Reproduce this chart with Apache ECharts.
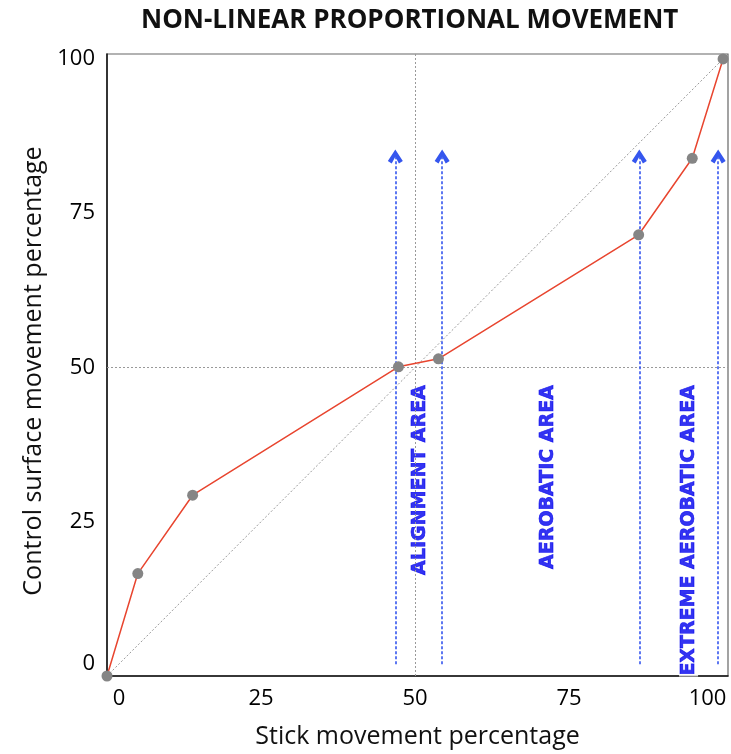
<!DOCTYPE html>
<html>
<head>
<meta charset="utf-8">
<script src="https://cdn.jsdelivr.net/npm/echarts@6/dist/echarts.min.js"></script>
<style>html,body{margin:0;padding:0;background:#fff}#c{width:731px;height:754px}</style>
</head>
<body>
<div id="c"></div>
<script>
// ---- data ----
const titleText = 'NON-LINEAR PROPORTIONAL MOVEMENT';
const xName = 'Stick movement percentage';
const yName = 'Control surface movement percentage';
const tickValues = [0, 25, 50, 75, 100];
const stickPct = [0, 5.0, 13.9, 47.3, 53.8, 86.3, 95.0, 100];
const surfacePct = [0, 16.6, 29.3, 50.1, 51.4, 71.5, 83.9, 100];
const arrowX = [46.8, 54.4, 86.4, 99.2];
const arrowFromY = 1.9;
const arrowToY = 84.2;
const areaNames = ['ALIGNMENT AREA', 'AEROBATIC AREA', 'EXTREME AEROBATIC AREA'];
const areaX = [50.8, 71.6, 94.4];
const areaTopY = 47.3;
const midValue = 50;

const font = 'Open Sans';
const chart = echarts.init(document.getElementById('c'), null, {renderer: 'canvas'});

function xLabel(v) {
  if (tickValues.indexOf(v) < 0) return '';
  if (v === tickValues[0]) return '{first|' + v + '}';
  if (v === tickValues[tickValues.length - 1]) return '{last|' + v + '}';
  return '{n|' + v + '}';
}
function yLabel(v) {
  if (tickValues.indexOf(v) < 0) return '';
  if (v === tickValues[0]) return '{first|' + v + '}';
  return '{n|' + v + '}';
}
const tickFont = {fontFamily: font, fontSize: 22, color: '#000'};

const arrowHead = 'path://M0,8 L5,0 L10,8 L7.4,9.6 L5,5 L2.6,9.6 Z';

const option = {
  animation: false,
  title: {
    text: titleText, left: 136, top: 3,
    textStyle: {fontFamily: font, fontWeight: 'bold', fontSize: 26, color: '#111'}
  },
  grid: {left: 107, right: 1, top: 54, bottom: 75, show: true, borderColor: '#666', borderWidth: 1.2},
  xAxis: {
    type: 'value', min: 0, max: 100.8, interval: 25,
    name: xName, nameLocation: 'middle', nameGap: 48,
    nameTextStyle: {fontFamily: font, fontSize: 25, color: '#111'},
    axisLine: {show: true, lineStyle: {color: '#111', width: 1.5}},
    axisTick: {show: false}, splitLine: {show: false},
    axisLabel: {
      margin: 12, formatter: xLabel,
      rich: {
        n: tickFont,
        first: Object.assign({padding: [0, 0, 0, 24]}, tickFont),
        last: Object.assign({padding: [0, 31, 0, 0]}, tickFont)
      }
    }
  },
  yAxis: {
    type: 'value', min: 0, max: 100.8, interval: 25,
    name: yName, nameLocation: 'middle', nameGap: 55,
    nameTextStyle: {fontFamily: font, fontSize: 25, color: '#111', padding: [0, 12, 0, 0]},
    axisLine: {show: true, lineStyle: {color: '#111', width: 1.5}},
    axisTick: {show: false}, splitLine: {show: false},
    axisLabel: {
      margin: 12, formatter: yLabel,
      rich: {
        n: tickFont,
        first: Object.assign({padding: [0, 0, 24, 0]}, tickFont)
      }
    }
  },
  series: [
    {
      name: 'guides', type: 'line', data: [], silent: true,
      markLine: {
        silent: true, symbol: ['none', 'none'], label: {show: false},
        lineStyle: {color: '#999', type: [2, 2], width: 1},
        data: [
          [{coord: [0, 0]}, {coord: [100, 100]}],
          [{xAxis: midValue, yAxis: 0}, {xAxis: midValue, yAxis: 100.8}],
          [{xAxis: 0, yAxis: midValue}, {xAxis: 100.8, yAxis: midValue}]
        ]
      }
    },
    {
      name: 'arrows', type: 'line', data: [], silent: true,
      markLine: {
        silent: true, symbol: ['none', arrowHead], symbolSize: [15, 14], label: {show: false},
        lineStyle: {color: '#3556ee', type: [3, 2], width: 1.6},
        emphasis: {disabled: true},
        data: arrowX.map(x => [{coord: [x, arrowFromY]}, {coord: [x, arrowToY], itemStyle: {color: '#1030ff'}}])
      }
    },
    {
      name: 'areas', type: 'scatter', silent: true, symbolSize: 0,
      data: areaNames.map((n, i) => [areaX[i], areaTopY, n]),
      label: {
        show: true, position: 'inside', rotate: 90, align: 'right', verticalAlign: 'middle',
        formatter: p => p.value[2],
        fontFamily: 'DejaVu Sans', fontWeight: 'bold', fontSize: 19, color: '#0000ee',
        textBorderColor: '#0000ee', textBorderWidth: 0.7,
        backgroundColor: '#fff', padding: [0, 1, 0, 1]
      }
    },
    {
      name: 'movement', type: 'line',
      data: stickPct.map((x, i) => [x, surfacePct[i]]),
      symbol: 'circle', symbolSize: 11, showSymbol: true,
      lineStyle: {color: '#e8452f', width: 1.5},
      itemStyle: {color: '#858585', borderWidth: 0},
      z: 5
    }
  ]
};
chart.setOption(option);
</script>
</body>
</html>
